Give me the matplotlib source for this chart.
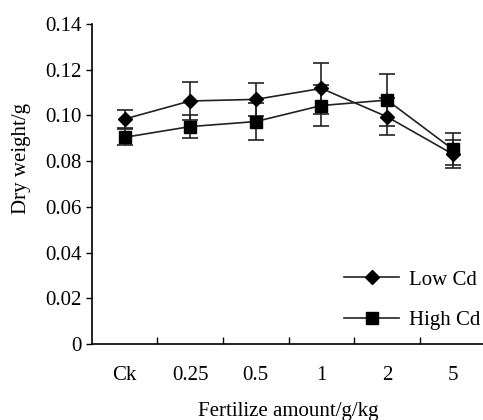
import numpy as np
import matplotlib.pyplot as plt
from matplotlib.lines import Line2D
from matplotlib.ticker import FixedLocator, NullFormatter

plt.rcParams['font.family'] = ['Liberation Serif', 'DejaVu Serif']

categories = ['Ck', '0.25', '0.5', '1', '2', '5']
low_cd = [0.0984, 0.1063, 0.1070, 0.1118, 0.0994, 0.0831]
low_err = [0.0040, 0.0085, 0.0073, 0.0110, 0.0080, 0.0060]
high_cd = [0.0904, 0.0951, 0.0973, 0.1043, 0.1067, 0.0852]
high_err = [0.0035, 0.0050, 0.0080, 0.0090, 0.0115, 0.0070]

fig = plt.figure(figsize=(4.83, 4.2), dpi=100)
ax = fig.add_axes([0.19, 0.181, 0.815, 0.762])

x = np.arange(len(categories))
line_col = '#222222'
fs = 15

ax.errorbar(x, low_cd, yerr=low_err, color=line_col, lw=1.2, marker='D',
            ms=7, mfc='black', mec='black', ecolor=line_col, elinewidth=1.2,
            capsize=5.5, capthick=1.2)
ax.errorbar(x, high_cd, yerr=high_err, color=line_col, lw=1.2, marker='s',
            ms=8, mfc='black', mec='black', ecolor=line_col, elinewidth=1.2,
            capsize=5.5, capthick=1.2)

ax.set_xlim(-0.5, len(categories) - 0.5)
ax.set_ylim(0, 0.14)
ax.set_yticks(np.arange(0, 0.141, 0.02))
ax.set_yticklabels(['0'] + ['%.2f' % v for v in np.arange(0.02, 0.141, 0.02)])

# category boundaries get the tick marks, labels sit in the middle
ax.xaxis.set_major_locator(FixedLocator(x[:-1] + 0.5))
ax.xaxis.set_major_formatter(NullFormatter())
ax.xaxis.set_minor_locator(FixedLocator(x))
ax.set_xticklabels(categories, minor=True)
ax.tick_params(axis='x', which='major', direction='in', length=5, width=1)
ax.tick_params(axis='x', which='minor', length=0, pad=16, labelsize=fs)
ax.tick_params(axis='y', direction='out', length=4, width=1, labelsize=fs, pad=3)

for s in ['top', 'right']:
    ax.spines[s].set_visible(False)
for s in ['left', 'bottom']:
    ax.spines[s].set_linewidth(1.2)

ax.set_ylabel('Dry weight/g', fontsize=fs)
ax.yaxis.set_label_coords(-0.155, 0.58)
ax.set_xlabel('Fertilize amount/g/kg', fontsize=fs, labelpad=12)

handles = [Line2D([], [], color=line_col, lw=1.2, marker='D', ms=7,
                  mfc='black', mec='black'),
           Line2D([], [], color=line_col, lw=1.2, marker='s', ms=8,
                  mfc='black', mec='black')]
ax.legend(handles, ['Low Cd', 'High Cd'], loc='lower right',
          bbox_to_anchor=(1.035, -0.015), frameon=False, fontsize=fs,
          handlelength=2.6, labelspacing=1.0, handletextpad=0.5)

fig.savefig('out.png', dpi=100)
